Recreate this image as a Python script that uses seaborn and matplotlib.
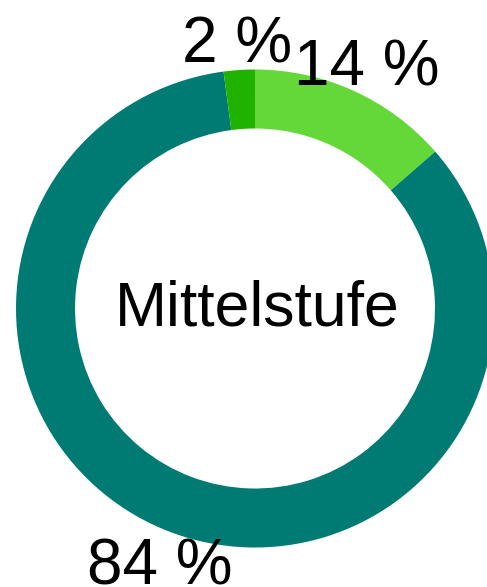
import matplotlib
matplotlib.use("Agg")
import matplotlib.pyplot as plt
import seaborn as sns

# data (clockwise from top)
segments = ["Segment A", "Segment B", "Segment C"]
shares = [13.6, 84.3, 2.1]
colors = ["#64d838", "#007b73", "#20b200"]
center_label = "Mittelstufe"

sns.set_theme(style="white")
plt.rcParams["font.family"] = ["Liberation Sans", "DejaVu Sans"]

fig = plt.figure(figsize=(4.87, 5.87), dpi=100)
ax = fig.add_axes([0, 0, 1, 1])

wedges, texts, autotexts = ax.pie(
    shares,
    colors=colors,
    startangle=90,
    counterclock=False,
    center=(255, 278.5),
    radius=239,
    autopct=lambda p: f"{p:.0f} %",
    pctdistance=1.13,
    wedgeprops=dict(width=59, linewidth=0),
    textprops=dict(fontsize=46, color="black"),
    frame=True,
)
# labels sit a little lower than the pie's default spot
for t in autotexts:
    x, y = t.get_position()
    t.set_position((x, y - 6))

ax.set_xlim(0, 487)
ax.set_ylim(0, 587)
ax.set_aspect("equal")
ax.axis("off")

ax.text(257, 278.5, center_label, ha="center", va="center", fontsize=45, color="black")

fig.savefig("out.png", dpi=100)
